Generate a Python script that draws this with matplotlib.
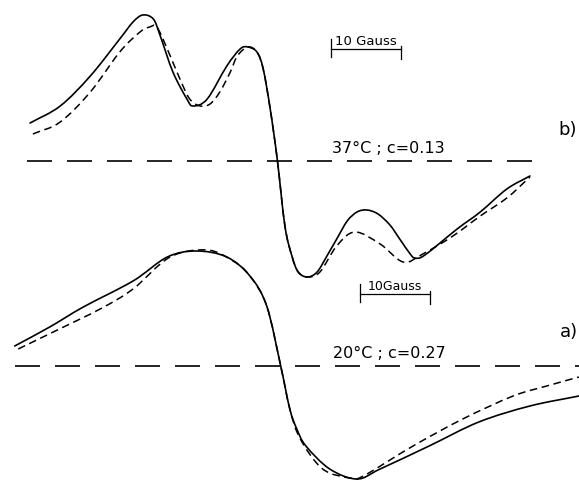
import numpy as np
import matplotlib.pyplot as plt
from matplotlib.path import Path
from matplotlib.patches import PathPatch

# ESR spectra, field in Gauss (relative to centre), signal in arbitrary units
# b) 37 C, c = 0.13 (upper trace, drawn on baseline offset b_off)
b_field_solid = [-35.7, -31.4, -27.1, -22.9, -21.0, -19.6, -18.1, -17.1, -15.3, -13.3,
                 -12.4, -10.4, -7.6, -5.7, -4.6, -3.3, -2.4, -1.4, -0.4, 0.7,
                 1.7, 2.6, 3.9, 5.3, 6.7, 8.1, 9.6, 11.0, 12.4, 14.0,
                 15.7, 17.1, 18.6, 19.3, 20.7, 25.3, 28.6, 32.4, 35.7]
b_sig_solid = [3.8, 5.5, 8.5, 12.2, 13.9, 14.6, 14.2, 12.5, 8.9, 6.2,
               5.5, 6.2, 9.5, 11.2, 11.4, 10.9, 9.2, 5.2, 0.2, -6.5,
               -9.5, -11.1, -11.6, -11.1, -9.5, -7.8, -6.0, -5.1, -4.9, -5.3,
               -6.4, -7.8, -9.3, -9.7, -9.4, -6.8, -5.1, -2.8, -1.5]
b_field_dash = [-35.3, -31.4, -27.1, -22.9, -20.0, -18.6, -17.6, -16.1, -14.3, -12.9,
                -11.4, -10.0, -8.6, -7.1, -6.1, -4.6, -3.3, -2.4, -1.4, -0.4,
                0.7, 1.7, 2.6, 3.9, 5.7, 8.1, 10.7, 14.3, 17.6,
                20.4, 24.7, 28.6, 32.4, 35.7]
b_sig_dash = [2.7, 3.9, 6.9, 10.9, 12.9, 13.4, 13.4, 11.2, 8.2, 6.2,
              5.5, 5.7, 6.9, 8.9, 10.5, 11.4, 10.9, 9.2, 5.2, 0.2,
              -6.5, -9.5, -11.1, -11.6, -11.1, -8.5, -7.1, -8.3, -10.1,
              -9.3, -7.5, -5.5, -3.7, -1.6]

# a) 20 C, c = 0.27 (lower trace)
a_field_solid = [-37.9, -32.9, -28.1, -21.0, -16.1, -11.9, -7.6, -4.3, -1.9, 0.1,
                 1.4, 2.4, 3.7, 7.1, 11.0, 14.3, 21.3, 28.4, 35.7, 42.7]
a_sig_solid = [2.0, 3.9, 5.9, 8.5, 10.9, 11.5, 10.9, 9.0, 6.0, 0.0,
               -4.3, -6.3, -8.0, -10.3, -11.3, -10.3, -8.0, -5.6, -4.0, -3.0]
a_field_dash = [-37.4, -32.4, -25.7, -21.0, -15.7, -10.4, -6.7, -4.3, -1.9, 0.1,
                1.4, 2.9, 6.1, 10.0, 11.9, 19.0, 26.1, 33.3, 38.1, 42.7]
a_sig_dash = [1.7, 3.4, 5.7, 7.7, 10.9, 11.6, 10.5, 9.0, 6.0, 0.0,
              -4.3, -7.3, -10.3, -11.2, -11.0, -8.0, -5.3, -3.0, -2.0, -1.1]

b_off = 20.5
b_base = (-36.1, 36.4)
a_base = (-37.9, 42.7)


def smooth_path(xs, ys):
    # Catmull-Rom through the points, handed to matplotlib as cubic Bezier segments
    p = np.column_stack([xs, ys]).astype(float)
    ext = np.vstack([2 * p[0] - p[1], p, 2 * p[-1] - p[-2]])
    verts = [p[0]]
    codes = [Path.MOVETO]
    for i in range(len(p) - 1):
        p0, p1, p2, p3 = ext[i], ext[i + 1], ext[i + 2], ext[i + 3]
        verts += [p1 + (p2 - p0) / 6, p2 - (p3 - p1) / 6, p2]
        codes += [Path.CURVE4] * 3
    return Path(verts, codes)


fig = plt.figure(figsize=(5.79, 4.81), dpi=100)
ax = fig.add_axes([0, 0, 1, 1])
ax.set_xlim(-40, 42.71)
ax.set_ylim(-11.4, 36.7)
ax.axis('off')

solid_kw = dict(fill=False, edgecolor='black', lw=1.2, capstyle='round')
dash_kw = dict(fill=False, edgecolor='black', lw=1.1, linestyle=(0, (5, 3)))

ax.add_patch(PathPatch(smooth_path(b_field_solid, np.array(b_sig_solid) + b_off), **solid_kw))
ax.add_patch(PathPatch(smooth_path(b_field_dash, np.array(b_sig_dash) + b_off), **dash_kw))
ax.add_patch(PathPatch(smooth_path(a_field_solid, a_sig_solid), **solid_kw))
ax.add_patch(PathPatch(smooth_path(a_field_dash, a_sig_dash), **dash_kw))

# baselines
base_ls = (0, (15, 9))
ax.plot(b_base, [b_off, b_off], color='black', lw=1.2, linestyle=base_ls)
ax.plot(a_base, [0, 0], color='black', lw=1.2, linestyle=base_ls)


def scale_bar(x0, y, text, fs):
    ax.plot([x0, x0 + 10], [y, y], color='black', lw=0.9)
    ax.plot([x0, x0], [y - 0.8, y + 1.0], color='black', lw=0.9)
    ax.plot([x0 + 10, x0 + 10], [y - 1.0, y + 0.3], color='black', lw=0.9)
    ax.text(x0 + 5, y + 0.2, text, ha='center', va='bottom', fontsize=fs)


scale_bar(7.3, 31.7, '10 Gauss', 9.5)
scale_bar(11.4, 7.2, '10Gauss', 9)

ax.text(7.4, b_off + 0.6, '37°C ; c=0.13', ha='left', va='bottom', fontsize=11.5)
ax.text(7.6, 0.6, '20°C ; c=0.27', ha='left', va='bottom', fontsize=11.5)
ax.text(41.1, 23.7, 'b)', ha='center', va='center', fontsize=13)
ax.text(42.6, 3.5, 'a)', ha='right', va='center', fontsize=13)

fig.savefig('out.png', dpi=100)
